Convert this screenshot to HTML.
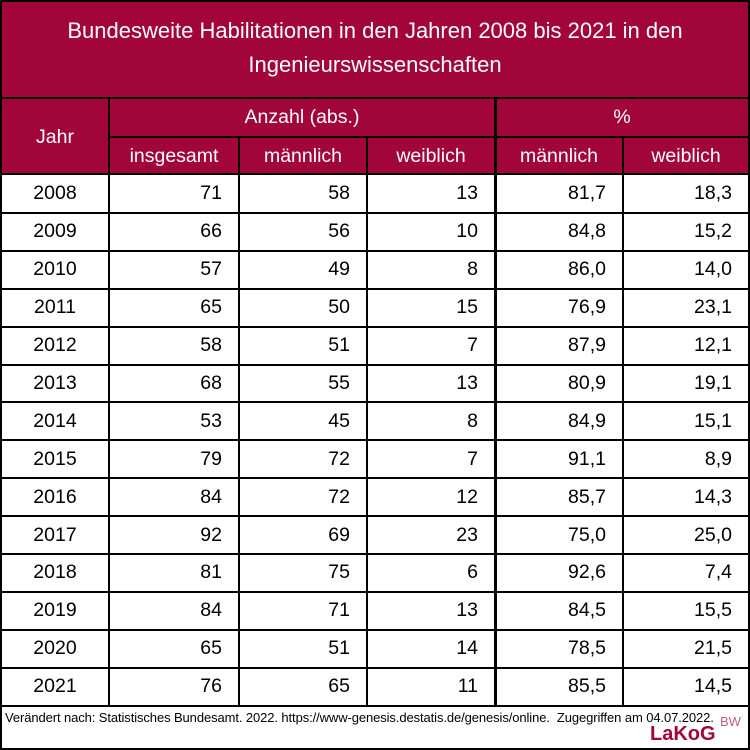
<!DOCTYPE html>
<html><head><meta charset="utf-8">
<style>
body{margin:0;width:750px;height:750px;background:#fff;font-family:"Liberation Sans",sans-serif;overflow:hidden}
#w{position:absolute;left:0;top:0;width:746px;height:746px;border:2px solid #000;overflow:hidden}
.a{position:absolute;box-sizing:border-box}
.red{background:#A1053A;color:#fff}
.t{position:absolute;left:0;top:12px;width:746px;text-align:center;color:#fff;font-size:22px;line-height:34px}
.h{display:flex;align-items:center;justify-content:center;font-size:19.5px;color:#fff}
.c{font-size:19.5px;color:#000;display:flex;align-items:center}
.vl{position:absolute;background:#000}
</style></head><body>
<div id="w">
<div class="a red" style="left:0;top:0;width:746px;height:95px"></div>
<div class="t">Bundesweite Habilitationen in den Jahren 2008 bis 2021 in den<br>Ingenieurswissenschaften</div>
<div class="a red" style="left:0;top:97px;width:746px;height:76px"></div>
<div class="a h" style="left:0;top:97px;width:106px;height:76px">Jahr</div>
<div class="a h" style="left:108px;top:97px;width:384px;height:37px">Anzahl (abs.)</div>
<div class="a h" style="left:494px;top:97px;width:252px;height:37px">%</div>
<div class="a h" style="left:108px;top:136px;width:128px;height:37px">insgesamt</div>
<div class="a h" style="left:238px;top:136px;width:126px;height:37px">männlich</div>
<div class="a h" style="left:366px;top:136px;width:126px;height:37px">weiblich</div>
<div class="a h" style="left:494px;top:136px;width:126px;height:37px">männlich</div>
<div class="a h" style="left:622px;top:136px;width:124px;height:37px">weiblich</div>
<div id="rows"></div>
<div class="a" style="left:3px;top:708px;font-size:13px;color:#000;white-space:nowrap;letter-spacing:-0.1px">Verändert nach: Statistisches Bundesamt. 2022. https://www-genesis.destatis.de/genesis/online.&nbsp; Zugegriffen am 04.07.2022.</div>
<div class="a" style="left:648px;top:721px;font-size:20px;font-weight:bold;color:#A1053A">LaKoG</div>
<div class="a" style="left:718px;top:712px;font-size:13px;color:#C06080">BW</div>
</div>
<script>
const years=[2008,2009,2010,2011,2012,2013,2014,2015,2016,2017,2018,2019,2020,2021];
const total=[71,66,57,65,58,68,53,79,84,92,81,84,65,76];
const male=[58,56,49,50,51,55,45,72,72,69,75,71,51,65];
const female=[13,10,8,15,7,13,8,7,12,23,6,13,14,11];
const malePct=["81,7","84,8","86,0","76,9","87,9","80,9","84,9","91,1","85,7","75,0","92,6","84,5","78,5","85,5"];
const femalePct=["18,3","15,2","14,0","23,1","12,1","19,1","15,1","8,9","14,3","25,0","7,4","15,5","21,5","14,5"];
const R=document.getElementById('rows');
const top0=173, rh=37.9;
const cols=[[0,106,'center'],[108,128,'right'],[238,126,'right'],[366,126,'right'],[494,126,'right'],[622,124,'right']];
function cell(x,y,w,h,txt,al,name){
 const d=document.createElement('div');
 d.className='a c';
 d.style.cssText=`left:${x}px;top:${y}px;width:${w}px;height:${h}px;justify-content:${al==='center'?'center':'flex-end'};padding-right:${al==='center'?0:16}px`;
 d.textContent=txt;
 
 
 R.appendChild(d);
}
years.forEach((y,i)=>{
 const yy=top0+i*rh;
 const vals=[y,total[i],male[i],female[i],malePct[i],femalePct[i]];
 vals.forEach((v,j)=>cell(cols[j][0],yy,cols[j][1],rh,String(v),cols[j][2],'cell-'+y+'-'+j));
 const l=document.createElement('div');
 l.className='vl';
 l.style.cssText=`left:0;top:${yy+rh-1}px;width:746px;height:2px`;
 
 
 R.appendChild(l);
});
function line(x,y,w,h,name){
 const l=document.createElement('div');
 l.className='vl';
 l.style.cssText=`left:${x}px;top:${y}px;width:${w}px;height:${h}px`;
 
 
 R.appendChild(l);
}
const bottom=top0+years.length*rh;
line(0,95,746,2,'title-bottom-line');
line(106,97,2,bottom-97,'col-line-1');
line(236,134,2,bottom-134,'col-line-2');
line(364,134,2,bottom-134,'col-line-3');
line(492,97,3,bottom-97,'col-line-4');
line(620,134,2,bottom-134,'col-line-5');
line(108,134,638,2,'header-mid-line');
line(0,171,746,2,'header-bottom-line');
</script>
</body></html>
